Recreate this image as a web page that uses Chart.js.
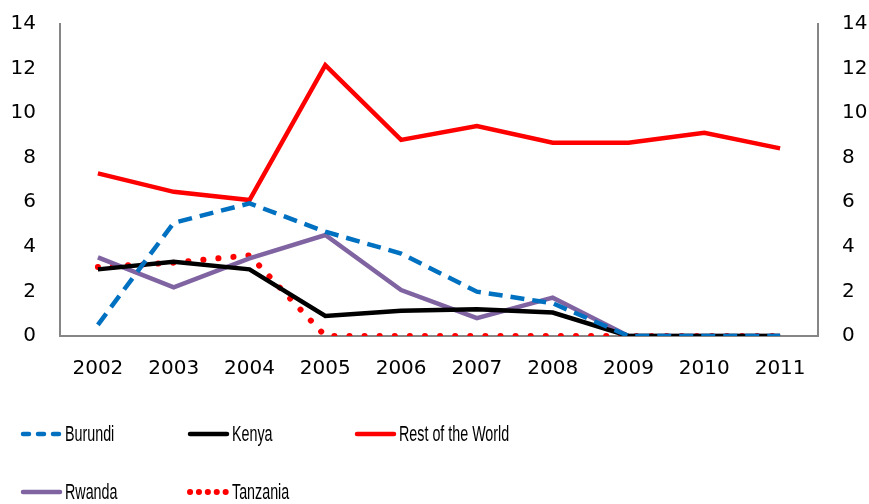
<!DOCTYPE html>
<html>
<head>
<meta charset="utf-8">
<script src="https://cdn.jsdelivr.net/npm/chart.js@4"></script>
<style>
  html, body { margin: 0; padding: 0; background: #fff; }
  #wrap { width: 869px; height: 504px; }
</style>
</head>
<body>
<div id="wrap"><canvas id="chart" width="869" height="504"></canvas></div>
<script>
// Data
const years = ['2002', '2003', '2004', '2005', '2006', '2007', '2008', '2009', '2010', '2011'];
const burundi = [0.5, 5.08, 5.95, 4.68, 3.7, 1.99, 1.47, 0, 0, 0];
const kenya = [2.99, 3.33, 2.99, 0.9, 1.13, 1.2, 1.05, 0, 0, 0];
const restOfWorld = [7.3, 6.47, 6.1, 12.15, 8.8, 9.42, 8.67, 8.67, 9.12, 8.42];
const rwanda = [3.53, 2.18, 3.48, 4.53, 2.06, 0.8, 1.72, 0, 0, 0];
const tanzania = [3.1, 3.29, 3.62, 0, 0, 0, 0, 0, 0, 0];
const yTicks = [0, 2, 4, 6, 8, 10, 12, 14];

const TICK_FONT = 'DejaVu Sans';

// Legend drawn in a 3 column grid below the plot (narrow text like the original)
const gridLegend = {
    id: 'gridLegend',
    afterDraw(chart) {
        const ctx = chart.ctx;
        const cols = [20, 187, 354];
        const rows = [434, 492];
        chart.data.datasets.forEach((ds, i) => {
            const x = cols[i % 3];
            const y = rows[Math.floor(i / 3)];
            ctx.save();
            ctx.strokeStyle = ds.borderColor;
            ctx.lineWidth = ds.borderWidth;
            ctx.lineCap = ds.borderCapStyle || 'round';
            ctx.setLineDash(ds.legendDash || ds.borderDash || []);
            ctx.beginPath();
            ctx.moveTo(x + 3, y);
            ctx.lineTo(x + 40, y);
            ctx.stroke();
            ctx.setLineDash([]);
            ctx.fillStyle = '#000';
            ctx.font = '22px "Liberation Sans"';
            ctx.textBaseline = 'middle';
            ctx.translate(x + 45, y + 1);
            ctx.scale(0.65, 1);
            ctx.fillText(ds.label, 0, 0);
            ctx.restore();
        });
    }
};

const axisCommon = {
    min: 0,
    max: 14,
    afterBuildTicks: axis => { axis.ticks = yTicks.map(v => ({ value: v })); },
    grid: { display: false },
    border: { display: true, color: '#868686', width: 2 },
    ticks: { color: '#000', font: { family: TICK_FONT, size: 20 }, padding: 16 }
};

function fitY(width) {
    return axis => {
        axis.width = width;
        axis.paddingTop = 24;
        axis.paddingBottom = 0;
    };
}

new Chart(document.getElementById('chart'), {
    type: 'line',
    data: {
        labels: years,
        datasets: [
            { label: 'Burundi', data: burundi, borderColor: '#0070C0', borderWidth: 4.5, borderDash: [14, 8], legendDash: [6, 9] },
            { label: 'Kenya', data: kenya, borderColor: '#000000', borderWidth: 4.5 },
            { label: 'Rest of the World', data: restOfWorld, borderColor: '#FF0000', borderWidth: 4.5 },
            { label: 'Rwanda', data: rwanda, borderColor: '#8064A2', borderWidth: 4.5 },
            { label: 'Tanzania', data: tanzania, borderColor: '#FF0000', borderWidth: 6, borderDash: [0.1, 15], borderCapStyle: 'round', legendDash: [0.1, 8.8] }
        ]
    },
    options: {
        responsive: false,
        animation: false,
        elements: { point: { radius: 0 }, line: { tension: 0 } },
        layout: { padding: 0 },
        plugins: { legend: { display: false }, tooltip: { enabled: false } },
        scales: {
            x: {
                offset: true,
                grid: { display: false, offset: true },
                border: { display: true, color: '#868686', width: 2 },
                ticks: { color: '#000', font: { family: TICK_FONT, size: 20 }, padding: 13, maxRotation: 0 },
                afterFit: axis => { axis.height = 168; }
            },
            y: Object.assign({ position: 'left', afterFit: fitY(60) }, axisCommon),
            y2: Object.assign({ position: 'right', afterFit: fitY(51) }, axisCommon)
        }
    },
    plugins: [gridLegend]
});
</script>
</body>
</html>
